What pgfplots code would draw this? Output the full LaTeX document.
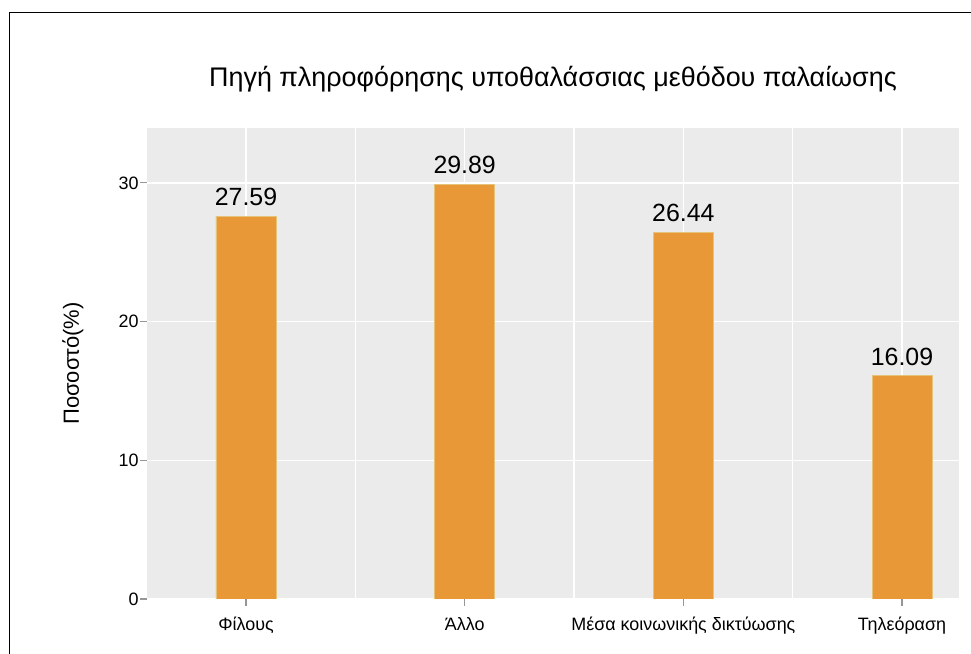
\documentclass[border=0pt]{standalone}
\usepackage{fontspec}
\setmainfont{Liberation Sans}
\usepackage{pgfplots}
\pgfplotsset{compat=1.18}
\definecolor{barfill}{RGB}{233,152,56}
\definecolor{barline}{RGB}{229,196,122}
\definecolor{panelbg}{RGB}{235,235,235}
\definecolor{tickgrey}{RGB}{150,150,150}
\begin{document}
\begin{tikzpicture}[x=1bp,y=1bp]
\useasboundingbox (0,0) rectangle (971,654);
\draw[line width=1.4bp] (9.7,-10) -- (9.7,641.5) -- (990,641.5);
\begin{axis}[
  at={(147bp,55bp)}, anchor=south west,
  scale only axis, width=812bp, height=471bp,
  xmin=-0.4527, xmax=3.2606, ymin=0, ymax=33.96,
  axis background/.style={fill=panelbg},
  axis line style={draw=none},
  ybar, bar width=60bp,
  xtick={0,1,2,3},
  xticklabels={Φίλους, Άλλο, Μέσα κοινωνικής δικτύωσης, Τηλεόραση},
  minor xtick={0.5,1.5,2.5},
  ytick={0,10,20,30},
  xmajorgrids, xminorgrids, ymajorgrids,
  major grid style={white, line width=1.3bp},
  minor grid style={white, line width=1.3bp},
  tick align=outside, tick pos=left,
  major tick length=7bp, minor tick length=0bp,
  tick style={tickgrey, line width=1.1bp},
  /pgf/number format/assume math mode=true,
  ticklabel style={font=\fontsize{18}{20}\selectfont, black},
  xticklabel style={anchor=base, yshift=-25bp},
  yticklabel style={xshift=2bp},
  title={Πηγή πληροφόρησης υποθαλάσσιας μεθόδου παλαίωσης},
  title style={at={(axis description cs:0.5,1)}, anchor=base, yshift=36bp, font=\fontsize{27}{30}\selectfont},
  ylabel={Ποσοστό(\%)},
  ylabel style={at={(axis description cs:0,0.5)}, yshift=74bp, anchor=center, font=\fontsize{22}{24}\selectfont},
  nodes near coords={\pgfmathprintnumber[fixed,fixed zerofill,precision=2]{\pgfplotspointmeta}},
  every node near coord/.append style={font=\fontsize{25}{28}\selectfont, black, inner sep=0pt, anchor=south, yshift=10bp},
]
\addplot[ybar, bar shift=0pt, fill=barfill, draw=barline, line width=0.8bp]
  coordinates {(0,27.59) (1,29.89) (2,26.44) (3,16.09)};
\end{axis}
\end{tikzpicture}
\end{document}
